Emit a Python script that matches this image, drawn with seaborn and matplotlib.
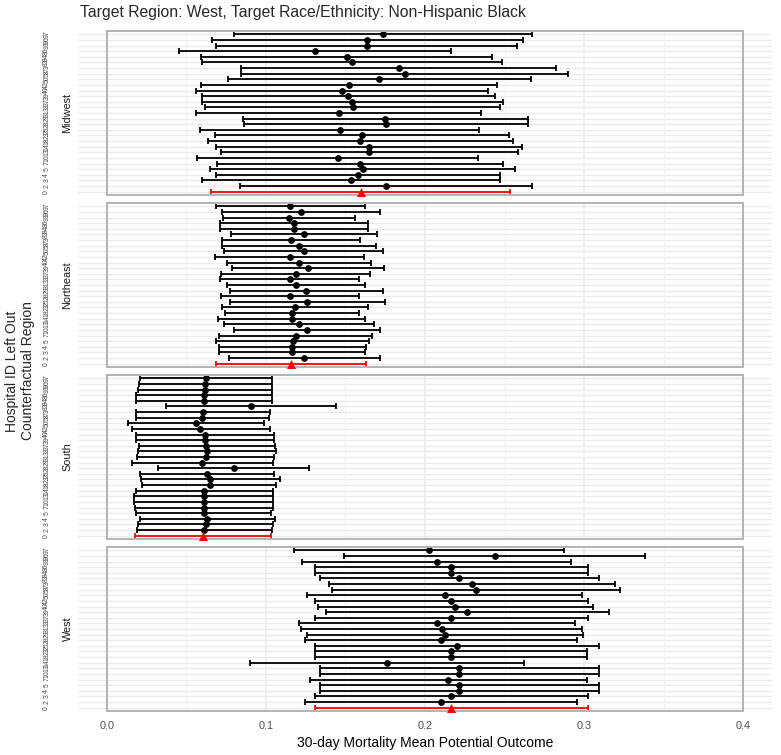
import numpy as np
import pandas as pd
import matplotlib
matplotlib.use('Agg')
import matplotlib.pyplot as plt
from matplotlib.patches import Rectangle
import seaborn as sns

# hospital left out, listed top to bottom (0 = nobody left out)
hospital_ids = [97, 96, 93, 86, 84, 83, 73, 58, 50, 42, 40, 39, 37, 33, 31,
                29, 28, 25, 23, 18, 14, 13, 10, 7, 5, 4, 3, 2, 0]

regions = ['Midwest', 'Northeast', 'South', 'West']

midwest_mean = [0.1738, 0.1637, 0.1633, 0.1308, 0.1509, 0.1543, 0.1836, 0.1874, 0.1714, 0.1522,
                0.1480, 0.1518, 0.1543, 0.1545, 0.1459, 0.1750, 0.1752, 0.1463, 0.1602, 0.1593,
                0.1648, 0.1650, 0.1451, 0.1593, 0.1608, 0.1579, 0.1535, 0.1757, 0.1595]
midwest_lower = [0.0801, 0.0660, 0.0689, 0.0455, 0.0595, 0.0601, 0.0847, 0.0847, 0.0763, 0.0595,
                 0.0564, 0.0599, 0.0597, 0.0621, 0.0564, 0.0855, 0.0860, 0.0585, 0.0679, 0.0635,
                 0.0689, 0.0717, 0.0570, 0.0696, 0.0652, 0.0689, 0.0599, 0.0839, 0.0656]
midwest_upper = [0.2675, 0.2614, 0.2577, 0.2164, 0.2423, 0.2485, 0.2825, 0.2901, 0.2665, 0.2450,
                 0.2396, 0.2437, 0.2489, 0.2469, 0.2354, 0.2645, 0.2644, 0.2341, 0.2525, 0.2551,
                 0.2607, 0.2583, 0.2332, 0.2490, 0.2564, 0.2469, 0.2471, 0.2675, 0.2534]

northeast_mean = [0.1155, 0.1220, 0.1145, 0.1178, 0.1178, 0.1239, 0.1157, 0.1208, 0.1239, 0.1149,
                  0.1208, 0.1266, 0.1187, 0.1149, 0.1191, 0.1254, 0.1151, 0.1260, 0.1182, 0.1164,
                  0.1164, 0.1209, 0.1260, 0.1187, 0.1170, 0.1167, 0.1165, 0.1241, 0.1157]
northeast_lower = [0.0684, 0.0723, 0.0730, 0.0713, 0.0713, 0.0780, 0.0723, 0.0723, 0.0740, 0.0681,
                   0.0757, 0.0788, 0.0717, 0.0715, 0.0757, 0.0774, 0.0719, 0.0774, 0.0723, 0.0742,
                   0.0702, 0.0736, 0.0799, 0.0708, 0.0689, 0.0704, 0.0704, 0.0767, 0.0686]
northeast_upper = [0.1626, 0.1717, 0.1560, 0.1643, 0.1643, 0.1698, 0.1591, 0.1690, 0.1738, 0.1617,
                   0.1659, 0.1744, 0.1657, 0.1583, 0.1625, 0.1734, 0.1583, 0.1746, 0.1641, 0.1586,
                   0.1626, 0.1682, 0.1720, 0.1666, 0.1651, 0.1630, 0.1626, 0.1715, 0.1628]

south_mean = [0.0623, 0.0620, 0.0617, 0.0610, 0.0610, 0.0906, 0.0608, 0.0602, 0.0560, 0.0589,
              0.0618, 0.0618, 0.0625, 0.0629, 0.0623, 0.0602, 0.0797, 0.0629, 0.0652, 0.0648,
              0.0614, 0.0610, 0.0610, 0.0610, 0.0610, 0.0633, 0.0623, 0.0614, 0.0606]
south_lower = [0.0208, 0.0201, 0.0195, 0.0182, 0.0182, 0.0371, 0.0187, 0.0187, 0.0132, 0.0161,
               0.0182, 0.0184, 0.0201, 0.0199, 0.0193, 0.0157, 0.0325, 0.0208, 0.0216, 0.0220,
               0.0187, 0.0174, 0.0170, 0.0178, 0.0187, 0.0210, 0.0195, 0.0193, 0.0178]
south_upper = [0.1040, 0.1040, 0.1038, 0.1038, 0.1036, 0.1440, 0.1027, 0.1017, 0.0989, 0.1025,
               0.1052, 0.1052, 0.1057, 0.1063, 0.1054, 0.1048, 0.1269, 0.1050, 0.1088, 0.1065,
               0.1046, 0.1042, 0.1048, 0.1042, 0.1031, 0.1057, 0.1046, 0.1038, 0.1033]

west_mean = [0.2027, 0.2438, 0.2074, 0.2166, 0.2166, 0.2216, 0.2294, 0.2321, 0.2124, 0.2166,
             0.2191, 0.2266, 0.2166, 0.2075, 0.2105, 0.2124, 0.2099, 0.2199, 0.2164, 0.2164,
             0.1763, 0.2216, 0.2216, 0.2147, 0.2216, 0.2216, 0.2166, 0.2099, 0.2166]
west_lower = [0.1178, 0.1493, 0.1228, 0.1310, 0.1310, 0.1342, 0.1394, 0.1415, 0.1260, 0.1310,
              0.1325, 0.1377, 0.1310, 0.1208, 0.1222, 0.1258, 0.1245, 0.1308, 0.1308, 0.1308,
              0.0901, 0.1342, 0.1342, 0.1275, 0.1342, 0.1342, 0.1310, 0.1245, 0.1308]
west_upper = [0.2876, 0.3384, 0.2919, 0.3021, 0.3021, 0.3090, 0.3193, 0.3226, 0.2987, 0.3021,
              0.3057, 0.3155, 0.3021, 0.2943, 0.2987, 0.2990, 0.2952, 0.3090, 0.3019, 0.3019,
              0.2625, 0.3090, 0.3090, 0.3019, 0.3090, 0.3090, 0.3021, 0.2952, 0.3021]

x_ticks = [0.0, 0.1, 0.2, 0.3, 0.4]

# long table
rows = []
series = [(midwest_mean, midwest_lower, midwest_upper),
          (northeast_mean, northeast_lower, northeast_upper),
          (south_mean, south_lower, south_upper),
          (west_mean, west_lower, west_upper)]
n = len(hospital_ids)
for reg, (m, lo, up) in zip(regions, series):
    for i, h in enumerate(hospital_ids):
        rows.append({'region': reg, 'hospital': h, 'pos': n - 1 - i,
                     'mean': m[i], 'lower': lo[i], 'upper': up[i]})
df = pd.DataFrame(rows)

sns.set_theme(style='whitegrid')
plt.rcParams['font.family'] = ['Liberation Sans', 'DejaVu Sans']

W, H = 781, 755
fig = plt.figure(figsize=(W / 100, H / 100), dpi=100)

left_px, right_px = 78, 772
panel_h = 164
tops = [31, 203, 375, 547]

for k, reg in enumerate(regions):
    top = tops[k]
    ax = fig.add_axes([left_px / W, 1 - (top + panel_h) / H,
                       (right_px - left_px) / W, panel_h / H])
    d = df[df['region'] == reg]
    ref = d[d['hospital'] == 0]
    oth = d[d['hospital'] != 0]

    ax.errorbar(oth['mean'], oth['pos'],
                xerr=[oth['mean'] - oth['lower'], oth['upper'] - oth['mean']],
                fmt='none', ecolor='black', elinewidth=1.3, capsize=2.2, capthick=1.3, zorder=3)
    ax.errorbar(ref['mean'], ref['pos'],
                xerr=[ref['mean'] - ref['lower'], ref['upper'] - ref['mean']],
                fmt='none', ecolor='#ff0000', elinewidth=1.3, capsize=2.2, capthick=1.3, zorder=3)
    sns.scatterplot(data=oth, x='mean', y='pos', color='black', s=24,
                    linewidth=0, ax=ax, zorder=4)
    sns.scatterplot(data=ref, x='mean', y='pos', color='#ff0000', marker='^', s=42,
                    linewidth=0, ax=ax, zorder=6, clip_on=False)

    ax.set_xlim(-0.018, 0.418)
    ax.set_ylim(-0.6, n - 0.4)
    ax.set_facecolor('white')
    for s in ax.spines.values():
        s.set_visible(False)

    # grid
    ax.grid(False)
    ax.set_yticks(range(n))
    ax.set_yticklabels([str(h) for h in hospital_ids[::-1]])
    for yy in range(n):
        ax.axhline(yy, color='#ebebeb', lw=1.0, zorder=0)
    for xv in [0.05, 0.15, 0.25, 0.35]:
        ax.axvline(xv, color='#f2f2f2', lw=0.7, zorder=0)
    for xv in x_ticks:
        ax.axvline(xv, color='#ebebeb', lw=1.1, zorder=0)

    ax.add_patch(Rectangle((0, 0), 0.4, 1, transform=ax.get_xaxis_transform(),
                           fill=False, edgecolor='#b3b3b3', lw=1.4, zorder=5, clip_on=False))

    ax.tick_params(axis='y', length=0, pad=20, labelsize=4.9, labelrotation=90,
                   labelcolor='#4d4d4d')
    for t in ax.get_yticklabels():
        t.set_va('center')
    ax.set_xticks(x_ticks)
    if k == 3:
        ax.set_xticklabels([f'{v:.1f}' for v in x_ticks])
        ax.tick_params(axis='x', length=0, pad=7, labelsize=7.8, labelcolor='#4d4d4d')
        ax.set_xlabel('30-day Mortality Mean Potential Outcome', fontsize=10,
                      color='black', labelpad=4)
    else:
        ax.set_xticklabels([])
        ax.tick_params(axis='x', length=0)
        ax.set_xlabel('')
    ax.set_ylabel('')

    ax.text(-10.5 / (right_px - left_px), 0.5, reg, transform=ax.transAxes,
            rotation=90, ha='center', va='center', fontsize=7.8, color='#1a1a1a')

fig.text(20 / W, 1 - 371 / H, 'Hospital ID Left Out\nCounterfactual Region',
         rotation=90, ha='center', va='center', fontsize=10, linespacing=1.1,
         multialignment='center')
fig.text(80 / W, 1 - 13 / H,
         'Target Region: West, Target Race/Ethnicity: Non-Hispanic Black',
         ha='left', va='center', fontsize=11.3)

fig.savefig('out.png', dpi=100)
